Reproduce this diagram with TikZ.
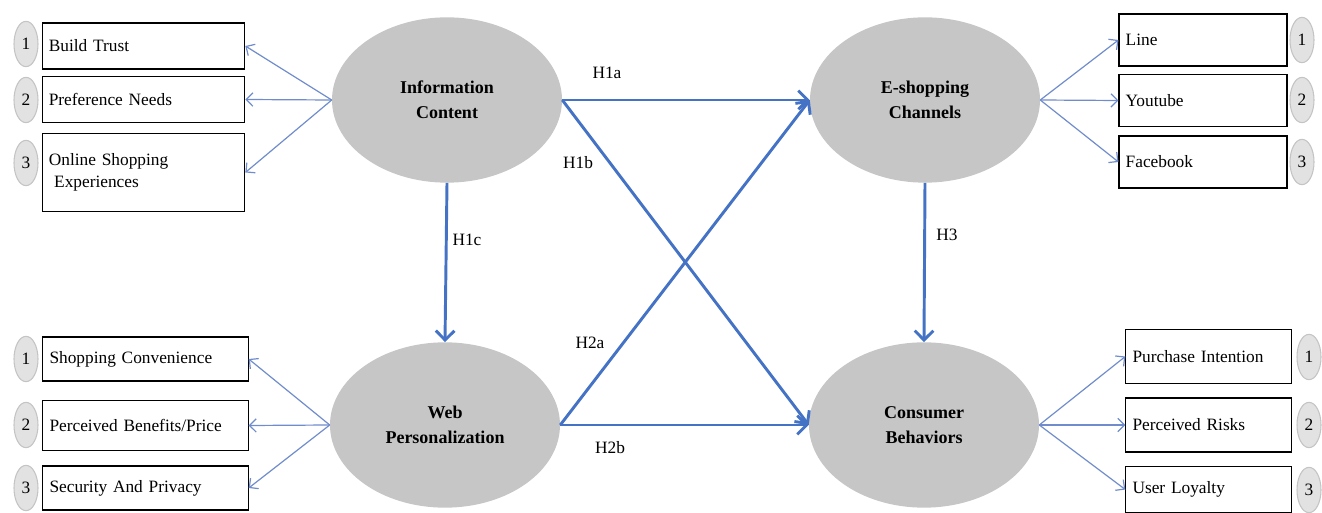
\documentclass[tikz,border=0pt]{standalone}
\usepackage{fontspec}
\setmainfont{Liberation Serif}
\usepackage{tikz}
\usetikzlibrary{arrows.meta}
\usetikzlibrary{shapes.geometric}
\definecolor{hypblue}{RGB}{68, 114, 196}
\definecolor{loadblue}{RGB}{112, 140, 204}
\definecolor{latentgray}{RGB}{198, 198, 198}
\definecolor{taggray}{RGB}{226, 226, 226}
\definecolor{tagedge}{RGB}{196, 196, 196}

\tikzset{
    latent/.style    ={ellipse, fill=latentgray, minimum width=172.5pt, minimum height=124pt,
                       align=center, font=\fontsize{13.5}{19}\selectfont\bfseries},
    indicator/.style ={draw, line width=0.8pt, inner xsep=5pt, inner ysep=0pt, align=left,
                       font=\fontsize{13}{16}\selectfont},
    numtag/.style    ={ellipse, fill=taggray, draw=tagedge, line width=0.8pt, inner sep=0pt,
                       minimum width=18pt, minimum height=34pt, font=\fontsize{13}{15}\selectfont},
    hyp/.style       ={draw=hypblue, line width=2.2pt, -{Straight Barb[length=7pt,width=14pt]}},
    load/.style      ={draw=loadblue, line width=0.9pt, -{Straight Barb[length=5pt,width=10pt]}},
    hlabel/.style    ={font=\fontsize{13}{15}\selectfont}
}

\begin{document}
\begin{tikzpicture}[x=0.75pt, y=-0.75pt]
    \useasboundingbox (0,0) rectangle (1322,513);

    % latent constructs
    \node[latent] (ic)  at (447,100) {Information\\Content};
    \node[latent] (esc) at (925,100) {E-shopping\\Channels};
    \node[latent] (wp)  at (445,425) {Web\\Personalization};
    \node[latent] (cb)  at (924,425) {Consumer\\Behaviors};

    % indicators of information content
    \node[indicator, text width=142pt, minimum height=34.5pt] (bt)  at (143.5,46)  {Build Trust};
    \node[indicator, text width=142pt, minimum height=34pt]   (pn)  at (143.5,99.5) {Preference Needs};
    \node[indicator, text width=142pt, minimum height=58pt]   (ose) at (143.5,172.5) {Online Shopping\\\hspace{4pt}Experiences};
    \node[numtag] (ic1) at (26,44)  {1};
    \node[numtag] (ic2) at (26,100) {2};
    \node[numtag] (ic3) at (26,163) {3};

    % indicators of web personalization
    \node[indicator, text width=144pt, minimum height=33pt] (sc)  at (145.5,359)   {Shopping Convenience};
    \node[indicator, text width=144pt, minimum height=37pt] (pbp) at (145.5,425.5) {Perceived Benefits/Price};
    \node[indicator, text width=144pt, minimum height=33pt] (sap) at (145.5,488)   {Security And Privacy};
    \node[numtag] (wp1) at (26,359) {1};
    \node[numtag] (wp2) at (26,425) {2};
    \node[numtag] (wp3) at (26,488) {3};

    % indicators of e-shopping channels
    \node[indicator, text width=116pt, minimum height=39pt] (line) at (1203,40)    {Line};
    \node[indicator, text width=116pt, minimum height=39pt] (yt)   at (1203,100.5) {Youtube};
    \node[indicator, text width=116pt, minimum height=39pt] (fb)   at (1203,162)   {Facebook};
    \node[numtag] (esc1) at (1302,40)  {1};
    \node[numtag] (esc2) at (1302,100) {2};
    \node[numtag] (esc3) at (1302,162) {3};

    % indicators of consumer behaviors
    \node[indicator, text width=114pt, minimum height=40pt]   (pi) at (1208.5,356.5) {Purchase Intention};
    \node[indicator, text width=114pt, minimum height=40.5pt] (pr) at (1208.5,425)   {Perceived Risks};
    \node[indicator, text width=114pt, minimum height=35pt]   (ul) at (1208.5,489.5) {User Loyalty};
    \node[numtag] (cb1) at (1309,357) {1};
    \node[numtag] (cb2) at (1309,425) {2};
    \node[numtag] (cb3) at (1309,490) {3};

    % loadings
    \draw[load] (ic.west)  -- (bt.east);
    \draw[load] (ic.west)  -- (pn.east);
    \draw[load] (ic.west)  -- (ose.east);
    \draw[load] (wp.west)  -- (sc.east);
    \draw[load] (wp.west)  -- (pbp.east);
    \draw[load] (wp.west)  -- (sap.east);
    \draw[load] (esc.east) -- (line.west);
    \draw[load] (esc.east) -- (yt.west);
    \draw[load] (esc.east) -- (fb.west);
    \draw[load] (cb.east)  -- (pi.west);
    \draw[load] (cb.east)  -- (pr.west);
    \draw[load] (cb.east)  -- (ul.west);

    % hypotheses
    \draw[hyp] (ic.east)   -- (esc.west);
    \draw[hyp] (ic.east)   -- (cb.west);
    \draw[hyp] (wp.east)   -- (esc.west);
    \draw[hyp] (wp.east)   -- (cb.west);
    \draw[hyp] (ic.south)  -- (wp.north);
    \draw[hyp] (esc.south) -- (cb.north);

    \node[hlabel] (h1a) at (607,73)  {H1a};
    \node[hlabel] (h1b) at (578,163) {H1b};
    \node[hlabel] (h1c) at (467,240) {H1c};
    \node[hlabel] (h2a) at (590,343) {H2a};
    \node[hlabel] (h2b) at (610,448) {H2b};
    \node[hlabel] (h3)  at (947,235) {H3};
\end{tikzpicture}
\end{document}
